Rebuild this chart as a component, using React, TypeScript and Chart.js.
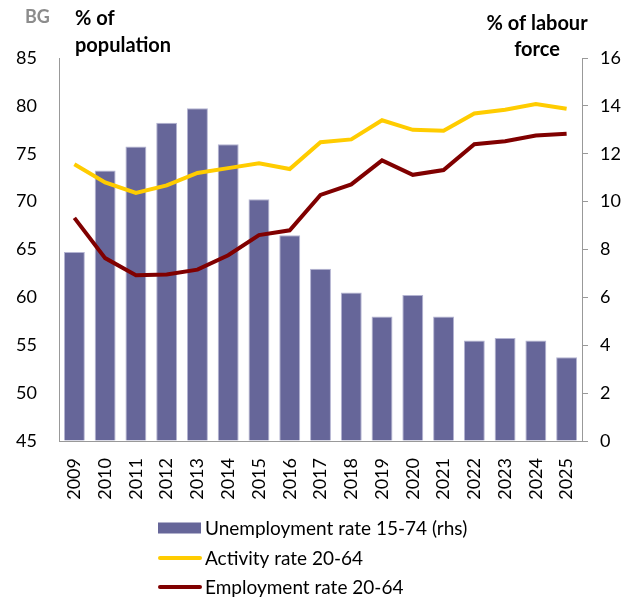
import React, { useEffect, useRef } from "react";
import { Chart, registerables } from "chart.js";

Chart.register(...registerables);

const years = ["2009","2010","2011","2012","2013","2014","2015","2016","2017","2018","2019","2020","2021","2022","2023","2024","2025"];
const unemployment = [7.9, 11.3, 12.3, 13.3, 13.9, 12.4, 10.1, 8.6, 7.2, 6.2, 5.2, 6.1, 5.2, 4.2, 4.3, 4.2, 3.5];
const activity = [73.9, 72.0, 70.9, 71.7, 73.0, 73.5, 74.0, 73.4, 76.2, 76.5, 78.5, 77.5, 77.4, 79.2, 79.6, 80.2, 79.7];
const employment = [68.3, 64.1, 62.3, 62.4, 62.9, 64.4, 66.5, 67.0, 70.7, 71.8, 74.3, 72.8, 73.3, 76.0, 76.3, 76.9, 77.1];
const leftTicks = [45, 50, 55, 60, 65, 70, 75, 80, 85];
const rightTicks = [0, 2, 4, 6, 8, 10, 12, 14, 16];
const seriesNames = ["Unemployment rate 15-74 (rhs)", "Activity rate 20-64", "Employment rate 20-64"];

const FONT = "Lato, 'Open Sans', sans-serif";

const decorPlugin = {
  id: "decor",
  afterDraw(chart: any) {
    const ctx = chart.ctx;
    ctx.save();
    // titles
    ctx.textBaseline = "alphabetic";
    ctx.font = `bold 18px ${FONT}`;
    ctx.fillStyle = "#8c8c8c";
    ctx.textAlign = "left";
    ctx.fillText("BG", 25, 23);
    ctx.font = `bold 20px ${FONT}`;
    ctx.fillStyle = "#000";
    ctx.fillText("% of", 75, 25);
    ctx.fillText("population", 75, 52);
    ctx.textAlign = "center";
    ctx.fillText("% of labour", 537, 30);
    ctx.fillText("force", 537, 56);

    // legend
    const ds = chart.data.datasets;
    const rows = [528, 558, 587];
    const order = [0, 1, 2];
    ctx.font = `19px ${FONT}`;
    ctx.textAlign = "left";
    ctx.textBaseline = "middle";
    order.forEach((di, i) => {
      const d = ds[di];
      const y = rows[i];
      if (d.type === "bar") {
        ctx.fillStyle = d.backgroundColor;
        ctx.fillRect(158, y - 5.5, 43, 11);
      } else {
        ctx.strokeStyle = d.borderColor;
        ctx.lineWidth = 4;
        ctx.lineCap = "round";
        ctx.beginPath();
        ctx.moveTo(160, y);
        ctx.lineTo(200, y);
        ctx.stroke();
      }
      ctx.fillStyle = "#000";
      ctx.fillText(d.label, 205, y + 1);
    });
    ctx.restore();
  },
};

export default function App() {
  const ref = useRef<HTMLCanvasElement>(null);
  useEffect(() => {
    if (!ref.current) return;
    const chart = new Chart(ref.current, {
      type: "bar",
      data: {
        labels: years,
        datasets: [
          {
            type: "bar",
            label: seriesNames[0],
            data: unemployment,
            yAxisID: "y1",
            backgroundColor: "#666699",
            borderColor: "#b4b4d2",
            borderWidth: 1,
            categoryPercentage: 1,
            barPercentage: 0.68,
            order: 3,
          },
          {
            type: "line",
            label: seriesNames[1],
            data: activity,
            yAxisID: "y",
            borderColor: "#ffcc00",
            backgroundColor: "#ffcc00",
            borderWidth: 4,
            pointRadius: 0,
            tension: 0,
            order: 2,
          },
          {
            type: "line",
            label: seriesNames[2],
            data: employment,
            yAxisID: "y",
            borderColor: "#800000",
            backgroundColor: "#800000",
            borderWidth: 4,
            pointRadius: 0,
            tension: 0,
            order: 1,
          },
        ] as any,
      },
      options: {
        animation: false,
        responsive: false,
        layout: { padding: { left: 0, right: 0, top: 58, bottom: 99 } },
        plugins: { legend: { display: false }, tooltip: { enabled: false } },
        scales: {
          x: {
            offset: true,
            grid: { display: false, drawTicks: false },
            border: { display: true, color: "#999999", width: 1 },
            ticks: {
              color: "#000",
              font: { family: FONT, size: 18 },
              maxRotation: 90,
              minRotation: 90,
              padding: 17,
              autoSkip: false,
            },
            afterFit(s: any) {
              s.height = 60;
              s.paddingLeft = 0;
              s.paddingRight = 0;
            },
          },
          y: {
            position: "left",
            min: 45,
            max: 85,
            afterBuildTicks(s: any) {
              s.ticks = leftTicks.map((v) => ({ value: v }));
            },
            grid: { display: false, drawTicks: false },
            border: { display: true, color: "#999999", width: 1 },
            ticks: { color: "#000", font: { family: FONT, size: 18 }, padding: 22 },
            afterFit(s: any) {
              s.width = 59;
              s.paddingTop = 0;
              s.paddingBottom = 0;
            },
          },
          y1: {
            position: "right",
            min: 0,
            max: 16,
            afterBuildTicks(s: any) {
              s.ticks = rightTicks.map((v) => ({ value: v }));
            },
            grid: { display: true, drawOnChartArea: false, drawTicks: true, tickLength: 6, color: "#999999" },
            border: { display: true, color: "#999999", width: 1 },
            ticks: { color: "#000", font: { family: FONT, size: 18 }, padding: 12 },
            afterFit(s: any) {
              s.width = 52;
              s.paddingTop = 0;
              s.paddingBottom = 0;
            },
          },
        },
      },
      plugins: [decorPlugin],
    } as any);
    return () => chart.destroy();
  }, []);
  return (
    <div style={{ position: "fixed", left: 0, top: 0, width: 634, height: 600, background: "#fff" }}>
      <canvas ref={ref} width={634} height={600} style={{ display: "block" }} />
    </div>
  );
}
